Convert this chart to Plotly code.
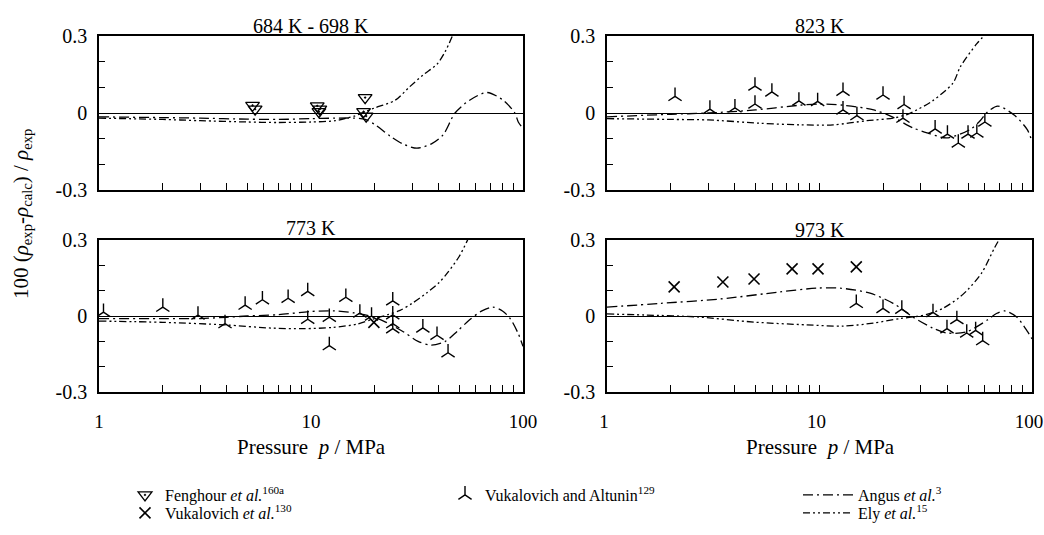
import plotly.graph_objects as go

# ---------------- data ----------------
# Panel 1: 684 K - 698 K
p1_feng_p = [5.3, 5.45, 10.7, 11.0, 10.9, 18.0, 17.7, 18.2]
p1_feng_v = [0.030, 0.015, 0.028, 0.015, 0.005, 0.060, 0.005, -0.012]
p1_angus_p = [1, 2, 3, 5, 7, 10, 13, 16, 18, 20, 23.6, 27, 31.6, 37, 42, 47.8, 56, 67.6, 80.5, 91.5, 95, 100]
p1_angus_v = [-0.015, -0.018, -0.02, -0.024, -0.025, -0.022, -0.02, -0.02, -0.025, -0.045, -0.09, -0.12, -0.137, -0.12, -0.085, 0.0, 0.05, 0.08, 0.05, 0.0, -0.035, -0.06]
p1_ely_p = [1, 2, 3, 5, 7, 10, 13, 16, 18, 20, 25, 29, 34, 39.3, 43, 47]
p1_ely_v = [-0.02, -0.025, -0.03, -0.035, -0.037, -0.035, -0.03, -0.012, 0.005, 0.02, 0.05, 0.10, 0.15, 0.19, 0.24, 0.31]

# Panel 2: 823 K
p2_va_p = [2.09, 3.05, 4.0, 4.97, 4.97, 5.97, 8.0, 9.8, 12.9, 12.9, 15.0, 19.9, 25.0, 24.7, 35, 40, 45, 50, 55, 60]
p2_va_v = [0.065, 0.015, 0.02, 0.105, 0.035, 0.082, 0.047, 0.045, 0.085, 0.012, -0.01, 0.07, 0.033, -0.02, -0.062, -0.082, -0.117, -0.082, -0.078, -0.035]
p2_angus_p = [1, 2, 3, 5, 8, 10, 13, 18, 22, 27.5, 32.4, 39.6, 51, 57, 61, 69, 83, 95, 100]
p2_angus_v = [-0.015, -0.005, 0.0, 0.012, 0.03, 0.035, 0.03, 0.012, -0.015, -0.058, -0.078, -0.097, -0.065, -0.03, 0.0, 0.027, -0.01, -0.065, -0.11]
p2_ely_p = [1, 2, 3, 5.25, 8.1, 11.6, 16.7, 22.2, 26, 28.7, 34, 42.5, 46, 55, 61]
p2_ely_v = [-0.022, -0.025, -0.027, -0.04, -0.046, -0.046, -0.03, -0.02, -0.005, 0.012, 0.047, 0.117, 0.18, 0.27, 0.31]

# Panel 3: 773 K
p3_va_p = [1.05, 2.0, 2.93, 3.93, 4.89, 5.9, 7.8, 9.65, 9.65, 12.2, 12.2, 14.6, 17.0, 19.3, 24.3, 24.3, 24.3, 24.3, 33.7, 39.3, 44.3]
p3_va_v = [0.015, 0.035, 0.004, -0.03, 0.043, 0.064, 0.07, 0.097, -0.013, -0.005, -0.117, 0.074, 0.012, 0.0, 0.06, 0.005, -0.03, -0.05, -0.047, -0.076, -0.145]
p3_vuk_p = [19.8]
p3_vuk_v = [-0.025]
p3_angus_p = [1, 2, 3, 4, 5, 7, 10, 13, 16, 19, 22, 27, 32, 37, 43, 49, 56, 64, 72, 80, 87, 95, 100]
p3_angus_v = [-0.01, -0.01, -0.01, -0.005, 0.0, 0.005, 0.018, 0.02, 0.012, 0.0, -0.02, -0.06, -0.1, -0.115, -0.1, -0.06, -0.015, 0.02, 0.035, 0.02, -0.01, -0.07, -0.12]
p3_ely_p = [1, 2, 3.9, 6.6, 9.2, 12.7, 16.5, 19.6, 23, 26.3, 30, 35, 40, 44, 50, 55.5]
p3_ely_v = [-0.02, -0.025, -0.035, -0.048, -0.05, -0.045, -0.032, -0.012, 0.005, 0.022, 0.05, 0.09, 0.13, 0.17, 0.235, 0.31]

# Panel 4: 973 K
p4_vuk_p = [2.07, 3.51, 4.92, 7.43, 9.84, 14.9]
p4_vuk_v = [0.115, 0.134, 0.146, 0.186, 0.186, 0.194]
p4_va_p = [14.9, 19.9, 24.4, 34.2, 39.8, 44.3, 49.3, 54.3, 58.6]
p4_va_v = [0.05, 0.03, 0.027, 0.014, -0.05, -0.014, -0.067, -0.057, -0.097]
p4_angus_p = [1, 1.8, 3.4, 6.5, 9.7, 12.5, 17.3, 22.2, 27.5, 34, 39.7, 49, 61.6, 68, 74.5, 84.7, 95.5, 100]
p4_angus_v = [0.035, 0.05, 0.067, 0.095, 0.11, 0.11, 0.09, 0.05, -0.004, -0.047, -0.067, -0.063, -0.016, 0.01, 0.02, -0.004, -0.063, -0.09]
p4_ely_p = [1, 1.5, 2.7, 4.9, 8.7, 12.9, 17.9, 24, 28, 32, 38, 45, 50, 58, 66.7, 71]
p4_ely_v = [0.008, 0.004, -0.004, -0.024, -0.035, -0.04, -0.028, -0.01, -0.003, 0.006, 0.03, 0.07, 0.105, 0.17, 0.27, 0.31]

panel_titles = ["684 K - 698 K", "823 K", "773 K", "973 K"]
x_tickvals = [1, 2, 3, 4, 5, 6, 7, 8, 9, 10, 20, 30, 40, 50, 60, 70, 80, 90, 100]
x_ticktext = ["1", "", "", "", "", "", "", "", "", "10", "", "", "", "", "", "", "", "", "100"]
y_tickvals = [-0.3, -0.2, -0.1, 0, 0.1, 0.2, 0.3]
y_ticktext = ["-0.3", "", "", "0", "", "", "0.3"]

# ---------------- styles ----------------
FONT = "Liberation Serif, 'Times New Roman', Times, 'DejaVu Serif', serif"
W, H = 1044, 535
ANGUS_DASH = "10px,4px,2px,4px"
ELY_DASH = "7px,3px,2px,3px,2px,3px"
LINE_W = 1.3

names = {
    "feng": "Fenghour <i>et al.</i><sup>160a</sup>",
    "vuk": "Vukalovich <i>et al.</i><sup>130</sup>",
    "va": "Vukalovich and Altunin<sup>129</sup>",
    "angus": "Angus <i>et al.</i><sup>3</sup>",
    "ely": "Ely <i>et al.</i><sup>15</sup>",
}
legend_of = {"feng": "legend", "vuk": "legend4", "va": "legend2", "angus": "legend3", "ely": "legend5"}
shown = set()

fig = go.Figure()

def add(kind, xs, ys, ax):
    xa = "x" if ax == 1 else f"x{ax}"
    ya = "y" if ax == 1 else f"y{ax}"
    show = kind not in shown
    shown.add(kind)
    common = dict(x=xs, y=ys, xaxis=xa, yaxis=ya, name=names[kind], legendgroup=kind,
                  showlegend=show, legend=legend_of[kind], hoverinfo="skip")
    if kind == "angus":
        fig.add_trace(go.Scatter(mode="lines", line=dict(color="black", width=LINE_W, dash=ANGUS_DASH,
                                 shape="spline", smoothing=0.8), **common))
    elif kind == "ely":
        fig.add_trace(go.Scatter(mode="lines", line=dict(color="black", width=LINE_W, dash=ELY_DASH,
                                 shape="spline", smoothing=0.8), **common))
    elif kind == "feng":
        fig.add_trace(go.Scatter(mode="markers", marker=dict(symbol="triangle-down-open-dot", size=12,
                                 color="black", line=dict(color="black", width=1.3)), **common))
    elif kind == "vuk":
        fig.add_trace(go.Scatter(mode="markers", marker=dict(symbol="x-thin", size=11,
                                 color="black", line=dict(color="black", width=1.6)), **common))
    elif kind == "va":
        fig.add_trace(go.Scatter(mode="markers", marker=dict(symbol="y-up", size=11,
                                 color="black", line=dict(color="black", width=1.4)), **common))

# panel 1
add("feng", p1_feng_p, p1_feng_v, 1)
add("vuk", [None], [None], 1)
add("va", p2_va_p, p2_va_v, 2)
add("angus", p1_angus_p, p1_angus_v, 1)
add("ely", p1_ely_p, p1_ely_v, 1)
# panel 2
add("angus", p2_angus_p, p2_angus_v, 2)
add("ely", p2_ely_p, p2_ely_v, 2)
# panel 3
add("va", p3_va_p, p3_va_v, 3)
add("vuk", p3_vuk_p, p3_vuk_v, 3)
add("angus", p3_angus_p, p3_angus_v, 3)
add("ely", p3_ely_p, p3_ely_v, 3)
# panel 4
add("vuk", p4_vuk_p, p4_vuk_v, 4)
add("va", p4_va_p, p4_va_v, 4)
add("angus", p4_angus_p, p4_angus_v, 4)
add("ely", p4_ely_p, p4_ely_v, 4)

# ---------------- layout ----------------
def px_x(a, b):
    return [a / W, b / W]

def px_y(top, bottom):
    return [1 - bottom / H, 1 - top / H]

col_dom = [px_x(99, 523), px_x(607, 1032)]
row_dom = [px_y(36, 190), px_y(240, 392)]

layout_axes = {}
for i in range(4):
    r, c = divmod(i, 2)
    n = "" if i == 0 else str(i + 1)
    layout_axes[f"xaxis{n}"] = dict(
        type="log", range=[0, 2], domain=col_dom[c], anchor=f"y{n}", automargin=False,
        tickvals=x_tickvals, ticktext=x_ticktext, ticks="inside", ticklen=7, tickwidth=1,
        tickcolor="black", showline=True, linecolor="black", linewidth=1.6, mirror=True,
        showgrid=False, zeroline=False, ticklabelstandoff=11, showticklabels=(r == 1),
        ticklabeloverflow="allow", ticklabelshift=(-3 if c == 1 else 0),
        tickfont=dict(family=FONT, size=19, color="black"), fixedrange=True)
    layout_axes[f"yaxis{n}"] = dict(
        range=[-0.3, 0.3], domain=row_dom[r], anchor=f"x{n}", automargin=False,
        tickvals=y_tickvals, ticktext=y_ticktext, ticks="inside", ticklen=6, tickwidth=1,
        tickcolor="black", showline=True, linecolor="black", linewidth=1.6, mirror=True,
        showgrid=False, zeroline=True, zerolinecolor="black", zerolinewidth=1.4,
        ticklabelstandoff=6, ticklabeloverflow="allow",
        tickfont=dict(family=FONT, size=20, color="black"), fixedrange=True)

annotations = []
title_pos = [(311, 26), (820, 26), (311, 228), (820, 230)]
for t, (ax_, ay_) in zip(panel_titles, title_pos):
    annotations.append(dict(text=t, x=ax_ / W, y=1 - ay_ / H, xref="paper", yref="paper",
                            showarrow=False, xanchor="center", yanchor="middle",
                            font=dict(family=FONT, size=20, color="black")))
for cx in (311, 820):
    annotations.append(dict(text="Pressure  <i>p</i> / MPa", x=cx / W, y=1 - 447 / H,
                            xref="paper", yref="paper", showarrow=False,
                            xanchor="center", yanchor="middle",
                            font=dict(family=FONT, size=21, color="black")))
annotations.append(dict(text="100 (<i>ρ</i><sub>exp</sub>-<i>ρ</i><sub>calc</sub>) / <i>ρ</i><sub>exp</sub>",
                        x=22 / W, y=1 - 214 / H, xref="paper", yref="paper", showarrow=False,
                        textangle=-90, xanchor="center", yanchor="middle",
                        font=dict(family=FONT, size=21, color="black")))

leg_common = dict(font=dict(family=FONT, size=16, color="black"), bgcolor="rgba(0,0,0,0)",
                  borderwidth=0, xanchor="left", yanchor="top", tracegroupgap=0,
                  orientation="v")
ROW1, ROW2 = 478, 496
fig.update_layout(
    width=W, height=H, margin=dict(l=0, r=0, t=0, b=0, autoexpand=False),
    paper_bgcolor="white", plot_bgcolor="white",
    font=dict(family=FONT, color="black"),
    annotations=annotations,
    legend=dict(x=125 / W, y=1 - ROW1 / H, **leg_common),
    legend4=dict(x=125 / W, y=1 - ROW2 / H, **leg_common),
    legend2=dict(x=445 / W, y=1 - ROW1 / H, **leg_common),
    legend3=dict(x=798 / W, y=1 - ROW1 / H, itemwidth=50, **leg_common),
    legend5=dict(x=798 / W, y=1 - ROW2 / H, itemwidth=50, **leg_common),
    **layout_axes,
)

fig.write_html("out.html")
